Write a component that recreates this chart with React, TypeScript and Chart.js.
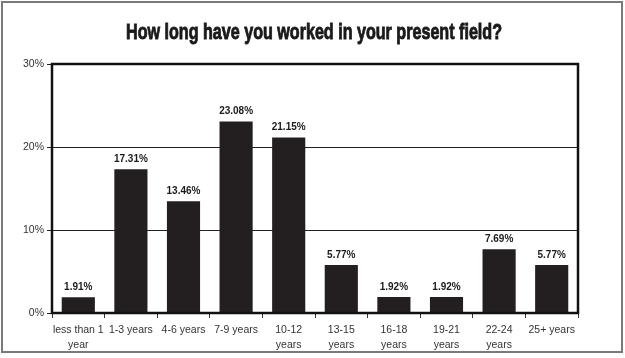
import React, { useEffect, useRef } from "react";
import { Chart, registerables } from "chart.js";

Chart.register(...registerables);

const TITLE = "How long have you worked in your present field?";
const categories: (string | string[])[] = [
  ["less than 1", "year"],
  "1-3 years",
  "4-6 years",
  "7-9 years",
  ["10-12", "years"],
  ["13-15", "years"],
  ["16-18", "years"],
  ["19-21", "years"],
  ["22-24", "years"],
  "25+ years",
];
const values = [1.91, 17.31, 13.46, 23.08, 21.15, 5.77, 1.92, 1.92, 7.69, 5.77];
const valueLabels = ["1.91%", "17.31%", "13.46%", "23.08%", "21.15%", "5.77%", "1.92%", "1.92%", "7.69%", "5.77%"];
const yTicks = [0, 10, 20, 30];

const decorPlugin = {
  id: "decor",
  beforeDraw(chart: any) {
    const { ctx, width, height } = chart;
    ctx.save();
    ctx.fillStyle = "#ffffff";
    ctx.fillRect(0, 0, width, height);
    ctx.restore();
  },
  afterDraw(chart: any) {
    const { ctx, chartArea } = chart;
    ctx.save();
    // outer frame
    ctx.strokeStyle = "#7a7a7a";
    ctx.lineWidth = 2;
    ctx.strokeRect(2, 2, 620, 350);
    // title (condensed by horizontal scaling)
    ctx.fillStyle = "#1a1a1a";
    ctx.strokeStyle = "#1a1a1a";
    ctx.font = "bold 22px 'Liberation Sans', Arial, sans-serif";
    ctx.textAlign = "center";
    ctx.textBaseline = "middle";
    const w = ctx.measureText(TITLE).width;
    const sx = 376 / w;
    ctx.save();
    ctx.translate(314, 33);
    ctx.scale(sx, 1);
    ctx.lineWidth = 0.9;
    ctx.fillText(TITLE, 0, 0);
    ctx.strokeText(TITLE, 0, 0);
    ctx.restore();
    // plot border
    ctx.strokeStyle = "#111111";
    ctx.lineWidth = 2.5;
    ctx.strokeRect(chartArea.left, chartArea.top, chartArea.right - chartArea.left, chartArea.bottom - chartArea.top);
    // value labels
    const meta = chart.getDatasetMeta(0);
    ctx.font = "bold 10px 'Liberation Sans', Arial, sans-serif";
    ctx.fillStyle = "#1a1a1a";
    ctx.textAlign = "center";
    ctx.textBaseline = "middle";
    meta.data.forEach((bar: any, i: number) => {
      ctx.fillText(valueLabels[i], bar.x, bar.y - 10);
    });
    ctx.restore();
  },
};

export default function App() {
  const ref = useRef<HTMLCanvasElement>(null);
  useEffect(() => {
    if (!ref.current) return;
    const chart = new Chart(ref.current, {
      type: "bar",
      data: {
        labels: categories,
        datasets: [
          {
            data: values,
            backgroundColor: "#231f20",
            borderWidth: 0,
            barPercentage: 0.63,
            categoryPercentage: 1,
          },
        ],
      },
      options: {
        animation: false,
        responsive: false,
        devicePixelRatio: 1,
        layout: { padding: { left: 0, right: 47, top: 64, bottom: 0 } },
        plugins: { legend: { display: false }, title: { display: false }, tooltip: { enabled: false } },
        scales: {
          x: {
            offset: true,
            grid: { display: true, drawOnChartArea: false, tickLength: 5, color: "#333", offset: true },
            border: { display: false },
            ticks: {
              color: "#333",
              padding: 4,
              maxRotation: 0,
              autoSkip: false,
              font: { family: "'Liberation Sans', Arial, sans-serif", size: 10.5, lineHeight: 1.45 },
            },
            afterFit: (scale: any) => {
              scale.height = 45;
            },
          },
          y: {
            min: 0,
            max: 30,
            afterBuildTicks: (scale: any) => {
              scale.ticks = yTicks.map((v) => ({ value: v }));
            },
            grid: { color: "#222", lineWidth: 1, tickLength: 5 },
            border: { display: false },
            ticks: {
              color: "#333",
              padding: 3,
              font: { family: "'Liberation Sans', Arial, sans-serif", size: 10.5 },
              callback: (v: any) => v + "%",
            },
            afterFit: (scale: any) => {
              scale.width = 52;
            },
          },
        },
      },
      plugins: [decorPlugin],
    });
    return () => chart.destroy();
  }, []);
  return (
    <div style={{ position: "fixed", left: 0, top: 0, width: 625, height: 358, background: "#fff" }}>
      <canvas ref={ref} width={625} height={358} />
    </div>
  );
}
